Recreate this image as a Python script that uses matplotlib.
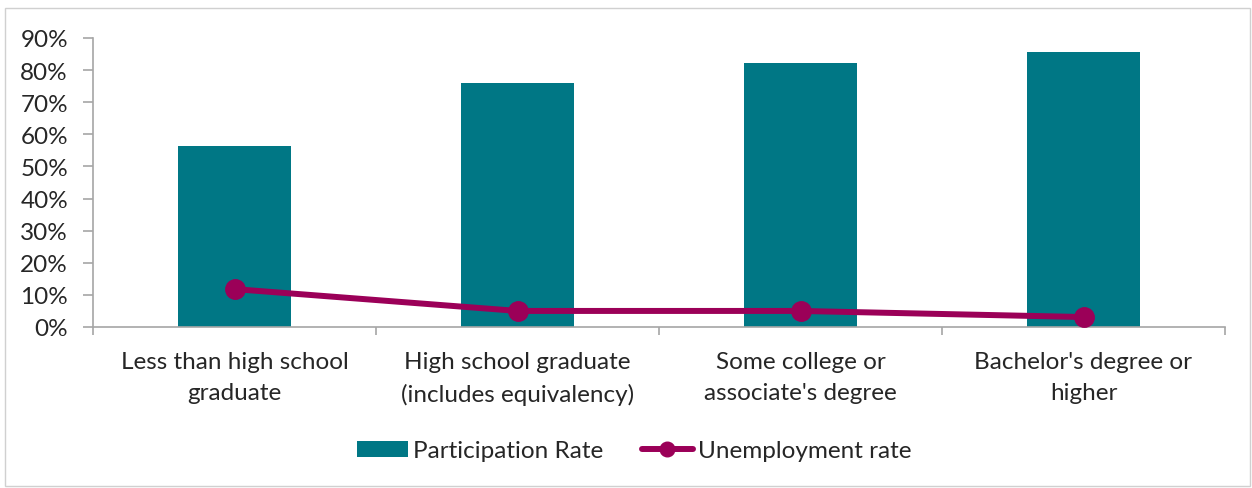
import matplotlib
matplotlib.use("Agg")
import matplotlib.pyplot as plt
from matplotlib.patches import Rectangle
from matplotlib.ticker import PercentFormatter, FixedLocator

categories = ["Less than high school\ngraduate",
              "High school graduate\n(includes equivalency)",
              "Some college or\nassociate's degree",
              "Bachelor's degree or\nhigher"]
participation = [0.564, 0.760, 0.822, 0.856]
unemployment = [0.118, 0.050, 0.050, 0.031]
yticks = [0.0, 0.1, 0.2, 0.3, 0.4, 0.5, 0.6, 0.7, 0.8, 0.9]

plt.rcParams['font.family'] = ['Lato', 'DejaVu Sans']

bar_color = "#007785"
line_color = "#9B0058"
text_color = "#262626"
axis_color = "#A6A6A6"
fs = 17.5

fig = plt.figure(figsize=(12.52, 4.89), dpi=100)
fig.patches.append(Rectangle((5/1252, 2/489), 1245/1252, 478/489, transform=fig.transFigure,
                             fill=False, edgecolor="#D0D0D0", linewidth=1.0))
ax = fig.add_axes([93/1252, 161/489, 1132/1252, 289/489])

x = list(range(len(categories)))
bars = ax.bar(x, participation, width=0.4, color=bar_color, label="Participation Rate", zorder=2)
line, = ax.plot(x, unemployment, color=line_color, linewidth=4.3, marker="o", markersize=14,
                label="Unemployment rate", zorder=3, solid_capstyle="round")

ax.set_xlim(-0.5, len(categories) - 0.5)
ax.set_ylim(0, 0.9)
ax.set_yticks(yticks)
ax.yaxis.set_major_formatter(PercentFormatter(1.0, decimals=0))
ax.set_xticks(x)
ax.set_xticklabels(categories, fontsize=fs, color=text_color, linespacing=1.6)
ax.xaxis.set_minor_locator(FixedLocator([i - 0.5 for i in range(len(categories) + 1)]))
ax.tick_params(axis="x", which="major", length=0, pad=17)
ax.tick_params(axis="x", which="minor", length=6, color=axis_color, width=1.2)
ax.tick_params(axis="y", length=7, color=axis_color, width=1.2, labelsize=fs,
               labelcolor=text_color, pad=11)

for s in ["top", "right"]:
    ax.spines[s].set_visible(False)
ax.spines["left"].set_color(axis_color)
ax.spines["bottom"].set_color(axis_color)
ax.spines["left"].set_linewidth(1.2)
ax.spines["bottom"].set_linewidth(1.2)

leg = fig.legend([bars, line], ["Participation Rate", "Unemployment rate"],
                 loc="center", bbox_to_anchor=(634/1252, 1 - 452/489), ncol=2, frameon=False,
                 fontsize=fs, handlelength=2.1, handleheight=0.6, handletextpad=0.2,
                 columnspacing=1.6, labelcolor=text_color, markerscale=0.75)

fig.savefig("out.png", dpi=100)
